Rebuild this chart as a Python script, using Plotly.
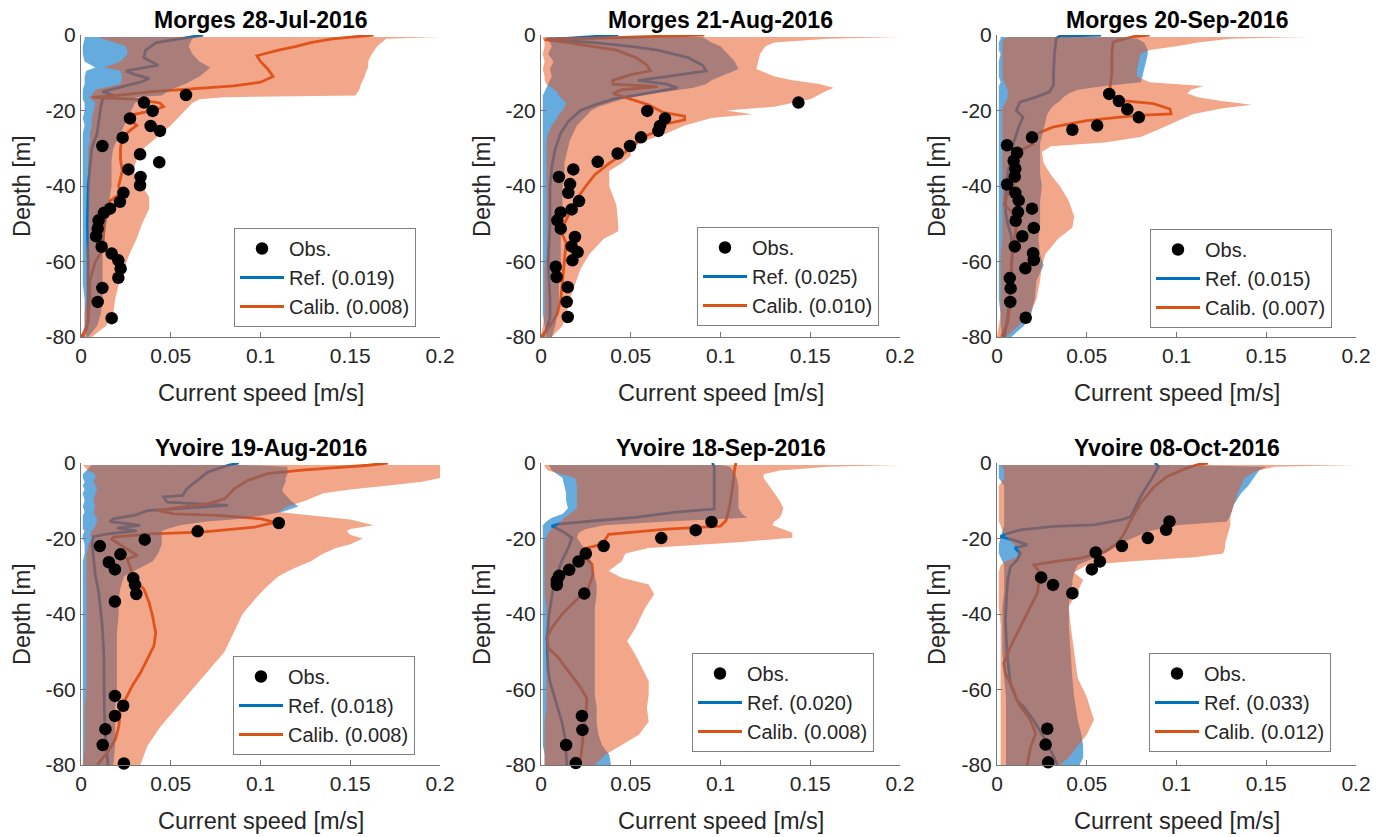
import plotly.graph_objects as go

FONT = "Liberation Sans, Arial, Helvetica, sans-serif"

# ---------------- Panel 1: Morges 28-Jul-2016 ----------------
p1_obs_speed = [0.0585,0.0351,0.0399,0.0273,0.0388,0.044,0.0232,0.0119,0.0329,0.0436,0.0264,0.0332,0.0329,0.0236,0.0217,0.0162,0.0128,0.0098,0.0093,0.0084,0.0115,0.0171,0.0208,0.0221,0.0208,0.0119,0.0093,0.0171]
p1_obs_depth = [-15.9,-17.9,-20.1,-22.1,-24.1,-25.4,-27.2,-29.4,-31.6,-33.7,-35.6,-37.6,-39.8,-41.8,-44.2,-46,-47.1,-49.1,-51.3,-53.3,-56.1,-57.9,-59.7,-61.9,-64.3,-67,-70.7,-75]
p1_ref_med_depth = [0,-1,-2,-4,-6,-8,-9.5,-10.5,-11.5,-12.5,-14,-15,-16,-17,-19,-22,-26,-30,-35,-40,-50,-60,-70,-76,-80]
p1_ref_med = [0.068,0.055,0.042,0.036,0.035,0.043,0.025,0.03,0.038,0.033,0.02,0.012,0.018,0.012,0.011,0.01,0.009,0.006,0.005,0.004,0.0035,0.004,0.004,0.004,0.001]
p1_cal_med_depth = [0,-1,-2,-3,-4,-5.5,-7,-9,-11,-12.5,-13.5,-14.3,-15,-16,-16.5,-17,-18,-19,-20,-21,-23,-24,-25,-27,-30,-33,-36,-40,-42,-44,-50,-57,-60,-65,-70,-75,-78,-80]
p1_cal_med = [0.163,0.14,0.128,0.12,0.11,0.098,0.1,0.104,0.107,0.1,0.085,0.058,0.04,0.02,0.006,0.03,0.044,0.046,0.04,0.03,0.029,0.031,0.028,0.023,0.022,0.022,0.023,0.021,0.022,0.016,0.013,0.012,0.008,0.005,0.005,0.004,0.003,0.0]
p1_band_depth = [-0.5,-1,-3,-5,-7,-8.6,-9.5,-11,-13,-14.5,-16,-16.5,-17,-18,-20,-22,-24,-26,-28,-30,-33,-36,-40,-43,-46,-50,-54,-58,-62,-66,-70,-74,-77,-80]
p1_ref_lo = [0.002,0.002,0.001,0.001,0.002,0.008,0.003,0.002,0.002,0.001,0.001,0.001,0.001,0.002,0.002,0.001,0.002,0.001,0.001,0.001,0.001,0.001,0.001,0.001,0.001,0.001,0.001,0.001,0.001,0.001,0.002,0.002,0.002,0.003]
p1_ref_hi = [0.062,0.062,0.06,0.062,0.066,0.072,0.07,0.066,0.058,0.05,0.045,0.03,0.035,0.03,0.028,0.026,0.024,0.022,0.02,0.018,0.017,0.017,0.017,0.016,0.015,0.014,0.013,0.012,0.012,0.012,0.012,0.011,0.009,0.004]
p1_cal_lo = [0.010,0.012,0.025,0.026,0.022,0.013,0.022,0.023,0.022,0.008,0.006,0.004,0.006,0.008,0.007,0.006,0.006,0.005,0.005,0.004,0.004,0.004,0.004,0.004,0.004,0.004,0.004,0.003,0.003,0.003,0.003,0.002,0.002,0.0]
p1_cal_hi = [0.2,0.17,0.165,0.162,0.16,0.16,0.159,0.158,0.156,0.155,0.153,0.08,0.066,0.062,0.058,0.054,0.05,0.045,0.04,0.035,0.031,0.029,0.034,0.038,0.038,0.034,0.031,0.027,0.024,0.021,0.019,0.018,0.014,0.006]

# ---------------- Panel 2: Morges 21-Aug-2016 ----------------
p2_obs_speed = [0.1434,0.0592,0.0691,0.0663,0.0654,0.0557,0.0496,0.0427,0.0316,0.018,0.01,0.0162,0.0152,0.0212,0.0171,0.011,0.0091,0.011,0.0189,0.0171,0.0204,0.0175,0.0082,0.0087,0.0149,0.0143,0.0149]
p2_obs_depth = [-17.9,-20.1,-22.1,-24.1,-25.4,-27.1,-29.4,-31.4,-33.6,-35.6,-37.6,-39.5,-41.8,-44,-46.2,-47,-49.1,-51.3,-53.5,-56,-57.5,-59.7,-61.4,-64.1,-66.8,-70.7,-74.7]
p2_ref_med_depth = [0,-1.2,-2,-3,-4,-6,-8,-9.5,-11,-12,-13,-14,-15.5,-17,-18.5,-20,-23,-26,-30,-35,-40,-50,-60,-70,-75,-78,-80]
p2_ref_med = [0.043,0.003,0.03,0.05,0.065,0.082,0.09,0.092,0.07,0.054,0.07,0.076,0.058,0.04,0.03,0.022,0.015,0.011,0.008,0.006,0.005,0.005,0.004,0.005,0.005,0.003,0.001]
p2_cal_med_depth = [0,-1.2,-2,-3,-4,-6,-8,-9.5,-10.5,-12,-13,-13.7,-14.5,-15.5,-17,-18.5,-20.5,-21.5,-22.5,-23.5,-25,-27,-29,-31,-34,-37,-40,-44,-47,-50,-53,-55,-60,-65,-70,-74,-77,-80]
p2_cal_med = [0.091,0.002,0.015,0.03,0.042,0.053,0.059,0.061,0.05,0.04,0.04,0.065,0.045,0.04,0.05,0.06,0.068,0.08,0.08,0.07,0.067,0.057,0.052,0.047,0.038,0.03,0.025,0.019,0.016,0.013,0.012,0.014,0.013,0.012,0.011,0.009,0.005,0.0]
p2_band_depth = [-0.5,-1,-2,-3,-5,-7,-9,-11,-12,-13,-14,-15,-16,-17,-18,-19,-20,-21,-22,-24,-26,-28,-30,-32,-34,-36,-40,-45,-50,-52,-54,-58,-62,-66,-70,-74,-77,-80]
p2_ref_lo = [0.003,0.004,0.005,0.006,0.004,0.007,0.005,0.006,0.005,0.004,0.003,0.002,0.001,0.001,0.001,0.001,0.001,0.001,0.001,0.001,0.001,0.001,0.001,0.001,0.001,0.001,0.001,0.001,0.001,0.001,0.001,0.001,0.001,0.001,0.001,0.001,0.002,0.003]
p2_ref_hi = [0.09,0.092,0.095,0.1,0.104,0.108,0.11,0.1,0.095,0.092,0.085,0.07,0.055,0.045,0.038,0.032,0.028,0.026,0.024,0.02,0.018,0.016,0.015,0.014,0.013,0.013,0.012,0.012,0.011,0.011,0.011,0.011,0.011,0.01,0.01,0.009,0.008,0.006]
p2_cal_lo = [0.001,0.001,0.002,0.002,0.001,0.002,0.001,0.002,0.002,0.003,0.006,0.009,0.01,0.012,0.014,0.013,0.012,0.01,0.009,0.006,0.004,0.003,0.003,0.003,0.003,0.003,0.003,0.003,0.003,0.003,0.003,0.003,0.002,0.002,0.002,0.002,0.001,0.0]
p2_cal_hi = [0.2,0.16,0.13,0.125,0.122,0.121,0.12,0.13,0.14,0.155,0.163,0.158,0.154,0.15,0.14,0.13,0.103,0.118,0.095,0.08,0.07,0.058,0.05,0.05,0.045,0.038,0.038,0.042,0.043,0.043,0.035,0.027,0.022,0.019,0.016,0.014,0.012,0.006]

# ---------------- Panel 3: Morges 20-Sep-2016 ----------------
p3_obs_speed = [0.0625,0.0679,0.0726,0.079,0.0558,0.042,0.0195,0.0056,0.0112,0.0093,0.0102,0.0099,0.0056,0.0102,0.0121,0.0195,0.0117,0.0104,0.0205,0.0141,0.0099,0.0201,0.0205,0.0158,0.0071,0.0076,0.0074,0.016]
p3_obs_depth = [-15.6,-17.5,-19.7,-21.8,-24,-25.1,-27.1,-29.2,-31.2,-33.3,-35.4,-37.5,-39.6,-41.8,-43.8,-46,-46.9,-49.2,-51.1,-53.3,-56,-57.8,-59.6,-61.8,-64.4,-67.1,-70.7,-74.9]
p3_ref_med_depth = [0,-0.3,-0.9,-5,-10,-13.3,-15.1,-16.4,-17.8,-20,-21.8,-23.6,-26,-29,-33,-36,-40,-43,-47,-50,-53.3,-58,-63,-70,-75,-80]
p3_ref_med = [0.058,0.035,0.033,0.032,0.0315,0.0315,0.029,0.022,0.0127,0.0108,0.0145,0.0127,0.011,0.0089,0.008,0.0061,0.0055,0.0048,0.0048,0.006,0.008,0.0085,0.008,0.007,0.006,0.004]
p3_cal_med_depth = [0,-0.4,-1.8,-5,-10.2,-13.8,-15.6,-17.3,-18.2,-19.6,-20.9,-21.3,-22.7,-24.4,-26.2,-27.1,-28.9,-30.7,-33,-36.6,-40,-43,-45,-46.7,-51,-55.5,-60,-66,-72,-76,-80]
p3_cal_med = [0.085,0.076,0.0647,0.064,0.064,0.063,0.064,0.0685,0.087,0.0964,0.097,0.078,0.05,0.031,0.022,0.018,0.02,0.0127,0.0115,0.0105,0.009,0.0052,0.004,0.008,0.0108,0.009,0.008,0.0075,0.007,0.006,0.0025]
p3_band_depth = [-0.5,-1,-2,-3,-4,-5,-7,-9,-11,-12.5,-13.5,-14.5,-15.5,-16.5,-17.5,-18.5,-19.5,-21,-23,-25,-27,-28.5,-29.5,-31,-34,-37,-40,-44,-48,-51,-54,-58,-61,-65,-70,-74,-77,-80]
p3_ref_lo = [0.002,0.002,0.001,0.001,0.001,0.002,0.001,0.001,0.001,0.002,0.001,0.001,0.001,0.001,0.001,0.001,0.001,0.001,0.001,0.001,0.001,0.001,0.001,0.001,0.001,0.001,0.001,0.001,0.001,0.001,0.001,0.001,0.001,0.001,0.001,0.002,0.002,0.003]
p3_ref_hi = [0.07,0.078,0.082,0.083,0.084,0.084,0.083,0.082,0.081,0.08,0.06,0.045,0.04,0.037,0.035,0.032,0.03,0.028,0.027,0.026,0.025,0.024,0.024,0.024,0.024,0.024,0.025,0.024,0.024,0.024,0.023,0.024,0.026,0.022,0.021,0.019,0.015,0.008]
p3_cal_lo = [0.007,0.004,0.003,0.003,0.003,0.003,0.003,0.003,0.003,0.004,0.005,0.006,0.006,0.006,0.005,0.004,0.003,0.003,0.003,0.003,0.003,0.003,0.003,0.003,0.003,0.003,0.003,0.003,0.003,0.003,0.003,0.002,0.002,0.002,0.002,0.002,0.001,0.0]
p3_cal_hi = [0.175,0.13,0.112,0.1,0.085,0.08,0.079,0.078,0.078,0.085,0.115,0.108,0.106,0.112,0.125,0.142,0.125,0.109,0.1,0.09,0.08,0.06,0.03,0.025,0.026,0.03,0.035,0.04,0.043,0.042,0.034,0.027,0.025,0.024,0.022,0.018,0.012,0.005]

# ---------------- Panel 4: Yvoire 19-Aug-2016 ----------------
p4_obs_speed = [0.1102,0.065,0.0355,0.0105,0.022,0.0155,0.0189,0.0291,0.0301,0.0308,0.0189,0.0189,0.0235,0.0189,0.0136,0.0121,0.0239]
p4_obs_depth = [-15.9,-18.1,-20.3,-22,-24.2,-26.3,-28.2,-30.5,-32.3,-34.7,-36.7,-61.7,-64.3,-67,-70.5,-74.7,-79.6]
p4_ref_med_depth = [0,-0.6,-2.4,-4.6,-6.8,-8.6,-9,-10.4,-10.8,-11.2,-11.7,-12.6,-13.9,-14.8,-15.5,-16.5,-17.2,-18,-18.8,-19.5,-21.4,-25,-29.8,-34.2,-38.7,-43.1,-50.2,-59,-65.2,-72.3,-79.4,-80]
p4_ref_med = [0.088,0.082,0.0706,0.065,0.059,0.0566,0.046,0.048,0.067,0.082,0.0668,0.037,0.0295,0.018,0.016,0.033,0.02,0.031,0.015,0.007,0.0062,0.007,0.008,0.0099,0.0108,0.0118,0.0127,0.0127,0.013,0.0136,0.0149,0.015]
p4_cal_med_depth = [0,-0.6,-1.9,-2.8,-4.6,-6.8,-9.5,-10.8,-11.7,-12.6,-13.5,-13.9,-14.8,-15.7,-17,-18.3,-18.8,-19.6,-20.2,-22.7,-24.5,-25.4,-28,-30.7,-33.4,-36.9,-40.4,-44.9,-48.4,-51.9,-55.5,-59,-62.6,-65.2,-69.6,-73.2,-76.7,-80]
p4_cal_med = [0.171,0.16,0.123,0.104,0.093,0.0855,0.08,0.0706,0.0556,0.0426,0.052,0.076,0.1005,0.108,0.0967,0.0669,0.0388,0.018,0.017,0.0258,0.0314,0.0258,0.0276,0.0295,0.035,0.0379,0.0398,0.0416,0.0407,0.037,0.0332,0.0286,0.0248,0.022,0.0211,0.0192,0.0146,0.009]
p4_band_depth = [-0.5,-1,-2,-3,-4,-5,-6,-7,-8,-10,-11.5,-13,-14,-15,-15.5,-16.5,-17.5,-18,-19,-20,-21.5,-22.5,-24,-26,-28,-30,-33,-36,-40,-45,-50,-55,-60,-65,-70,-75,-80]
p4_ref_lo = [0.006,0.005,0.003,0.001,0.001,0.002,0.001,0.002,0.001,0.002,0.001,0.002,0.001,0.001,0.001,0.001,0.001,0.002,0.001,0.001,0.002,0.002,0.002,0.001,0.001,0.001,0.001,0.001,0.001,0.001,0.001,0.001,0.001,0.001,0.001,0.001,0.001]
p4_ref_hi = [0.09,0.115,0.115,0.115,0.114,0.114,0.113,0.112,0.113,0.117,0.121,0.112,0.1,0.085,0.07,0.055,0.048,0.045,0.045,0.045,0.045,0.044,0.043,0.04,0.032,0.024,0.022,0.021,0.021,0.02,0.02,0.02,0.02,0.019,0.019,0.019,0.018]
p4_cal_lo = [0.001,0.002,0.004,0.008,0.008,0.007,0.008,0.009,0.008,0.007,0.008,0.007,0.008,0.009,0.009,0.008,0.007,0.006,0.005,0.006,0.004,0.004,0.003,0.003,0.003,0.003,0.003,0.003,0.003,0.003,0.003,0.003,0.003,0.002,0.002,0.002,0.001]
p4_cal_hi = [0.2,0.2,0.2,0.2,0.2,0.19,0.17,0.15,0.135,0.125,0.115,0.11,0.13,0.15,0.155,0.163,0.15,0.148,0.15,0.157,0.15,0.142,0.135,0.128,0.118,0.11,0.103,0.097,0.09,0.085,0.08,0.071,0.062,0.053,0.044,0.037,0.033]

# ---------------- Panel 5: Yvoire 18-Sep-2016 ----------------
p5_obs_speed = [0.095,0.0862,0.067,0.0349,0.025,0.0209,0.0157,0.0101,0.0088,0.0088,0.0241,0.0228,0.0231,0.014,0.0194]
p5_obs_depth = [-15.6,-17.8,-19.9,-22,-24,-26.1,-28.3,-29.9,-31.1,-32.3,-34.6,-67,-70.7,-74.7,-79.5]
p5_ref_med_depth = [0,-1,-6,-12.2,-13,-14.4,-15.3,-16.2,-16.7,-18,-19.8,-22.4,-26,-29.5,-33,-36.6,-40.1,-43,-46,-50,-55,-58,-59.6,-64,-68.5,-72.9,-80]
p5_ref_med = [0.0955,0.0965,0.0965,0.0965,0.075,0.0526,0.0302,0.0097,0.006,0.0116,0.0172,0.0153,0.0116,0.0088,0.0069,0.0056,0.0045,0.004,0.0035,0.0035,0.004,0.005,0.006,0.0088,0.0116,0.0134,0.0144]
p5_cal_med_depth = [0,-1.2,-6.5,-11.8,-15.3,-16.7,-17.5,-18.9,-21.5,-22.9,-24,-26.8,-29.5,-33,-36.6,-40.1,-43.7,-46.3,-49,-51.6,-55.2,-58.7,-62.3,-66.7,-71.1,-75.6,-80]
p5_cal_med = [0.1086,0.108,0.1067,0.105,0.103,0.1,0.07,0.0377,0.034,0.0228,0.022,0.0284,0.029,0.0265,0.019,0.0116,0.006,0.0032,0.0041,0.0097,0.0153,0.0209,0.0256,0.025,0.0237,0.0228,0.0218]
p5_band_depth = [-0.5,-1,-2,-3,-4,-6,-8,-10,-12,-13.5,-14.5,-15.5,-16.5,-17.5,-18.5,-19.8,-21,-22.5,-24,-26,-28.6,-30.4,-32.2,-34.8,-38.4,-43.7,-47.2,-50.8,-54.3,-57.8,-61.4,-64.9,-68.5,-72,-74.7,-77.3,-80]
p5_ref_lo = [0.004,0.005,0.006,0.009,0.012,0.013,0.014,0.014,0.015,0.012,0.006,0.003,0.001,0.001,0.001,0.001,0.001,0.001,0.001,0.001,0.001,0.001,0.001,0.001,0.001,0.001,0.001,0.001,0.001,0.001,0.001,0.001,0.001,0.001,0.001,0.002,0.002]
p5_ref_hi = [0.1,0.105,0.107,0.108,0.109,0.11,0.11,0.11,0.11,0.112,0.115,0.07,0.035,0.025,0.021,0.02,0.022,0.024,0.026,0.028,0.029,0.03,0.031,0.031,0.03,0.03,0.03,0.03,0.03,0.03,0.03,0.031,0.031,0.032,0.034,0.038,0.039]
p5_cal_lo = [0.002,0.002,0.004,0.012,0.019,0.02,0.02,0.02,0.02,0.016,0.013,0.011,0.009,0.006,0.004,0.003,0.002,0.002,0.002,0.002,0.002,0.002,0.002,0.002,0.003,0.003,0.003,0.003,0.003,0.003,0.003,0.003,0.002,0.002,0.002,0.002,0.002]
p5_cal_hi = [0.2,0.16,0.133,0.124,0.124,0.127,0.13,0.133,0.135,0.134,0.133,0.13,0.129,0.135,0.14,0.14,0.11,0.06,0.047,0.045,0.0377,0.045,0.06,0.063,0.058,0.0526,0.048,0.0526,0.0563,0.06,0.06,0.059,0.06,0.0545,0.045,0.0358,0.03]

# ---------------- Panel 6: Yvoire 08-Oct-2016 ----------------
p6_obs_speed = [0.0961,0.0942,0.084,0.0696,0.055,0.0573,0.0528,0.0246,0.0312,0.042,0.028,0.0271,0.0285]
p6_obs_depth = [-15.5,-17.7,-19.9,-22,-23.7,-26.1,-28.2,-30.3,-32.3,-34.5,-70.4,-74.6,-79.3]
p6_ref_med_depth = [0,-0.9,-4.4,-8.9,-14.2,-15.1,-16.4,-16.8,-17.7,-19,-19.5,-20.5,-21.7,-22.5,-23.9,-25.7,-27.5,-31,-36.3,-41.6,-50.5,-58.5,-62.9,-64.7,-68.2,-72.6,-77,-80]
p6_ref_med = [0.088,0.09,0.0858,0.08,0.0746,0.069,0.054,0.0317,0.013,0.0037,0.002,0.01,0.0168,0.01,0.013,0.0112,0.0075,0.006,0.0052,0.0047,0.0056,0.0075,0.0112,0.015,0.0205,0.026,0.0308,0.0336]
p6_cal_med_depth = [0,-0.4,-1.3,-3.5,-6.2,-10.6,-15.1,-18.6,-21.3,-23.5,-25.2,-26.1,-27,-29.2,-34.5,-38.1,-43.4,-48.7,-53.1,-55.8,-59.3,-63.8,-68.2,-71.7,-75.3,-80]
p6_cal_med = [0.1175,0.112,0.106,0.095,0.0877,0.08,0.0746,0.071,0.067,0.06,0.0466,0.0317,0.0205,0.0243,0.0224,0.0187,0.013,0.0075,0.0037,0.0047,0.0084,0.0121,0.0187,0.0215,0.0187,0.0168]
p6_band_depth = [-0.5,-1,-2,-4,-6,-8,-11,-14,-15.5,-16.5,-18,-20,-21.5,-22.5,-24,-25,-26,-27,-29,-31,-32,-34,-38,-43,-50,-57,-62,-65,-68,-72,-75,-78,-80]
p6_ref_lo = [0.001,0.001,0.001,0.001,0.004,0.004,0.004,0.004,0.004,0.004,0.003,0.002,0.001,0.001,0.001,0.002,0.003,0.004,0.004,0.004,0.004,0.004,0.003,0.003,0.003,0.004,0.005,0.005,0.005,0.005,0.005,0.005,0.005]
p6_ref_hi = [0.1,0.15,0.146,0.143,0.14,0.136,0.132,0.13,0.128,0.1,0.085,0.075,0.068,0.065,0.06,0.055,0.05,0.045,0.043,0.042,0.042,0.041,0.04,0.04,0.041,0.042,0.043,0.044,0.045,0.047,0.048,0.048,0.046]
p6_cal_lo = [0.003,0.003,0.004,0.004,0.001,0.001,0.001,0.001,0.001,0.002,0.003,0.006,0.01,0.012,0.012,0.011,0.005,0.002,0.001,0.001,0.001,0.001,0.001,0.002,0.002,0.002,0.002,0.002,0.002,0.002,0.002,0.002,0.002]
p6_cal_hi = [0.2,0.155,0.145,0.138,0.136,0.134,0.132,0.13,0.13,0.13,0.129,0.128,0.127,0.127,0.126,0.11,0.075,0.05,0.043,0.048,0.047,0.045,0.04,0.041,0.043,0.045,0.05,0.052,0.054,0.05,0.045,0.04,0.035]

titles = ["Morges 28-Jul-2016", "Morges 21-Aug-2016", "Morges 20-Sep-2016",
          "Yvoire 19-Aug-2016", "Yvoire 18-Sep-2016", "Yvoire 08-Oct-2016"]
ref_labels = ["Ref. (0.019)", "Ref. (0.025)", "Ref. (0.015)", "Ref. (0.018)", "Ref. (0.020)", "Ref. (0.033)"]
cal_labels = ["Calib. (0.008)", "Calib. (0.010)", "Calib. (0.007)", "Calib. (0.008)", "Calib. (0.008)", "Calib. (0.012)"]
x_ticks = [0, 0.05, 0.1, 0.15, 0.2]
x_tick_text = ["0", "0.05", "0.1", "0.15", "0.2"]
y_ticks = [-80, -60, -40, -20, 0]
y_tick_text = ["-80", "-60", "-40", "-20", "0"]

panels = [
    (p1_obs_speed, p1_obs_depth, p1_ref_med_depth, p1_ref_med, p1_cal_med_depth, p1_cal_med, p1_band_depth, p1_ref_lo, p1_ref_hi, p1_cal_lo, p1_cal_hi),
    (p2_obs_speed, p2_obs_depth, p2_ref_med_depth, p2_ref_med, p2_cal_med_depth, p2_cal_med, p2_band_depth, p2_ref_lo, p2_ref_hi, p2_cal_lo, p2_cal_hi),
    (p3_obs_speed, p3_obs_depth, p3_ref_med_depth, p3_ref_med, p3_cal_med_depth, p3_cal_med, p3_band_depth, p3_ref_lo, p3_ref_hi, p3_cal_lo, p3_cal_hi),
    (p4_obs_speed, p4_obs_depth, p4_ref_med_depth, p4_ref_med, p4_cal_med_depth, p4_cal_med, p4_band_depth, p4_ref_lo, p4_ref_hi, p4_cal_lo, p4_cal_hi),
    (p5_obs_speed, p5_obs_depth, p5_ref_med_depth, p5_ref_med, p5_cal_med_depth, p5_cal_med, p5_band_depth, p5_ref_lo, p5_ref_hi, p5_cal_lo, p5_cal_hi),
    (p6_obs_speed, p6_obs_depth, p6_ref_med_depth, p6_ref_med, p6_cal_med_depth, p6_cal_med, p6_band_depth, p6_ref_lo, p6_ref_hi, p6_cal_lo, p6_cal_hi),
]

W, H = 1389, 837
col_px = [(81, 440), (541, 900), (997, 1356)]
row_px = [(35, 337), (463, 765)]
legend_px = [(234, 228), (697, 227), (1150, 229), (233, 656), (692, 653), (1149, 653)]
ytitle_px = [22, 482, 937]

BLUE = "#0072BD"
ORANGE = "#D95319"
BLUE_FILL = "rgba(0,115,200,0.6)"
ORANGE_FILL = "rgba(230,85,30,0.52)"
AXIS_COL = "#767676"
TEXT_COL = "#262626"

fig = go.Figure()
layout = dict(width=W, height=H, margin=dict(l=0, r=0, t=0, b=0, autoexpand=False),
              paper_bgcolor="white", plot_bgcolor="white", showlegend=True,
              font=dict(family=FONT, color=TEXT_COL), annotations=[])

for i, p in enumerate(panels):
    (obs_s, obs_d, rmd, rm, cmd, cm, bd, rlo, rhi, clo, chi) = p
    r, c = divmod(i, 3)
    n = i + 1
    xa = "x" if n == 1 else f"x{n}"
    ya = "y" if n == 1 else f"y{n}"
    leg = "legend" if n == 1 else f"legend{n}"
    # median lines (drawn first, then the translucent bands above them)
    fig.add_trace(go.Scatter(x=rm, y=rmd, mode="lines", line=dict(color=BLUE, width=2.8),
                             name=ref_labels[i], xaxis=xa, yaxis=ya, legend=leg,
                             legendrank=2, legendgroup=f"r{n}", hoverinfo="skip"))
    fig.add_trace(go.Scatter(x=cm, y=cmd, mode="lines", line=dict(color=ORANGE, width=2.8),
                             name=cal_labels[i], xaxis=xa, yaxis=ya, legend=leg,
                             legendrank=3, legendgroup=f"c{n}", hoverinfo="skip"))
    fig.add_trace(go.Scatter(x=list(rlo) + list(rhi)[::-1], y=list(bd) + list(bd)[::-1],
                             mode="lines", fill="toself", fillcolor=BLUE_FILL,
                             line=dict(width=0, color=BLUE_FILL), showlegend=False,
                             xaxis=xa, yaxis=ya, hoverinfo="skip"))
    fig.add_trace(go.Scatter(x=list(clo) + list(chi)[::-1], y=list(bd) + list(bd)[::-1],
                             mode="lines", fill="toself", fillcolor=ORANGE_FILL,
                             line=dict(width=0, color=ORANGE_FILL), showlegend=False,
                             xaxis=xa, yaxis=ya, hoverinfo="skip"))
    fig.add_trace(go.Scatter(x=obs_s, y=obs_d, mode="markers",
                             marker=dict(color="black", size=12.5, line=dict(width=0)),
                             name="Obs.", xaxis=xa, yaxis=ya, legend=leg, cliponaxis=False,
                             legendrank=1, legendgroup=f"o{n}", hoverinfo="skip"))

    x0, x1 = col_px[c]
    yt, yb = row_px[r]
    xkey = "xaxis" if n == 1 else f"xaxis{n}"
    ykey = "yaxis" if n == 1 else f"yaxis{n}"
    common = dict(showgrid=False, zeroline=False, showline=True, linecolor=AXIS_COL, linewidth=1,
                  ticks="inside", ticklen=5, tickwidth=1, tickcolor=AXIS_COL, mirror=False,
                  automargin=False,
                  tickfont=dict(family=FONT, size=21, color=TEXT_COL), fixedrange=True)
    layout[xkey] = dict(common, domain=[x0 / W, x1 / W], range=[0, 0.2], anchor=ya,
                        tickvals=x_ticks, ticktext=x_tick_text)
    layout[ykey] = dict(common, domain=[1 - yb / H, 1 - yt / H], range=[-80, 0], anchor=xa,
                        tickvals=y_ticks, ticktext=y_tick_text)
    lx, ly = legend_px[i]
    layout[leg] = dict(x=lx / W, y=1 - ly / H, xanchor="left", yanchor="top", xref="paper", yref="paper",
                       bgcolor="white", bordercolor="#808080", borderwidth=1,
                       font=dict(family=FONT, size=20, color=TEXT_COL),
                       traceorder="grouped", tracegroupgap=0, itemwidth=44)
    cx = (x0 + x1) / 2
    layout["annotations"].append(dict(text=f"<b>{titles[i]}</b>", x=cx / W, y=1 - (yt - 15) / H,
                                      xref="paper", yref="paper", showarrow=False,
                                      xanchor="center", yanchor="middle",
                                      font=dict(family=FONT, size=23, color="black")))
    layout["annotations"].append(dict(text="Current speed [m/s]", x=cx / W, y=1 - (yb + 56) / H,
                                      xref="paper", yref="paper", showarrow=False,
                                      xanchor="center", yanchor="middle",
                                      font=dict(family=FONT, size=23.5, color=TEXT_COL)))
    layout["annotations"].append(dict(text="Depth [m]", x=ytitle_px[c] / W, y=1 - ((yt + yb) / 2) / H,
                                      xref="paper", yref="paper", showarrow=False, textangle=-90,
                                      xanchor="center", yanchor="middle",
                                      font=dict(family=FONT, size=23.5, color=TEXT_COL)))

fig.update_layout(**layout)
fig.write_html("out.html")
